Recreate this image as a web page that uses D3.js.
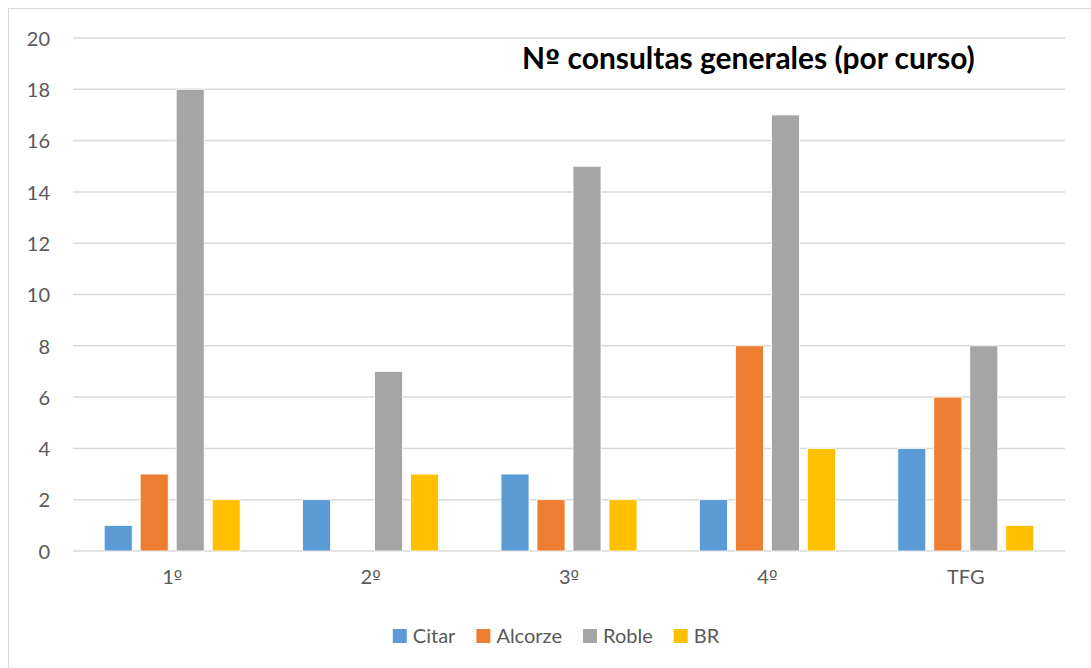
<!DOCTYPE html>
<html><head><meta charset="utf-8">
<script src="https://cdn.jsdelivr.net/npm/d3@7"></script>
<style>body{margin:0;background:#fff}svg{display:block}</style>
</head><body>
<svg id="c" width="1091" height="668"></svg>
<script>
const categories = ["1º", "2º", "3º", "4º", "TFG"];
const seriesNames = ["Citar", "Alcorze", "Roble", "BR"];
const citar   = [1, 2, 3, 2, 4];
const alcorze = [3, 0, 2, 8, 6];
const roble   = [18, 7, 15, 17, 8];
const br      = [2, 3, 2, 4, 1];
const yTicks = [0, 2, 4, 6, 8, 10, 12, 14, 16, 18, 20];
const colors = ["#5b9bd5", "#ed7d31", "#a5a5a5", "#ffc000"];
const title = "Nº consultas generales (por curso)";

const seriesValues = [citar, alcorze, roble, br];
const svg = d3.select("#c");
const font = "Lato, 'Open Sans', sans-serif";
const ordFont = "'DejaVu Sans', sans-serif";

// render text with the ordinal sign in a font that underlines it
function setOrdText(sel, str) {
  sel.text(null);
  str.split(/(º)/).filter(p => p.length).forEach(p => {
    const ts = sel.append("tspan").text(p);
    if (p === "º") ts.attr("font-family", ordFont).attr("font-size", "0.9em");
  });
}

svg.append("rect").attr("x", 8.5).attr("y", 8.5).attr("width", 1100).attr("height", 700)
  .attr("fill", "#fff").attr("stroke", "#d9d9d9").attr("stroke-width", 1);

const x0 = d3.scaleBand().domain(categories).range([73, 1065]).padding(0);
const x1 = d3.scaleBand().domain(seriesNames).range([-68, 68]).paddingInner(8/36).paddingOuter(0);
const y = d3.scaleLinear().domain([0, 20]).range([551, 38]);

// gridlines
svg.append("g").selectAll("line").data(yTicks).join("line")
  .attr("x1", 73).attr("x2", 1065)
  .attr("y1", d => y(d)).attr("y2", d => y(d))
  .attr("stroke", "#d9d9d9").attr("stroke-width", 1.5);

// y axis labels
const yAxis = d3.axisLeft(y).tickValues(yTicks).tickSize(0).tickPadding(0);
const gy = svg.append("g").attr("transform", "translate(50,0)").call(yAxis);
gy.select(".domain").remove();
gy.selectAll("text").attr("font-family", font).attr("font-size", 20).attr("fill", "#595959").attr("dy", "0.36em");

// bars
const data = [];
categories.forEach((c, i) => seriesNames.forEach((s, j) => data.push({c, s, v: seriesValues[j][i], j})));
svg.append("g").selectAll("rect").data(data).join("rect")
  .attr("x", d => x0(d.c) + x0.bandwidth()/2 + x1(d.s))
  .attr("width", x1.bandwidth())
  .attr("y", d => y(d.v))
  .attr("height", d => y(0) - y(d.v))
  .attr("fill", d => colors[d.j])
  .attr("stroke", "#fff").attr("stroke-width", d => d.v > 0 ? 0.8 : 0);

// x axis labels
const xAxis = d3.axisBottom(x0).tickSize(0).tickPadding(0);
const gx = svg.append("g").attr("transform", "translate(0,570)").call(xAxis);
gx.select(".domain").remove();
gx.selectAll("text").attr("font-family", font).attr("font-size", 20).attr("fill", "#595959").attr("dy", "0.71em")
  .each(function(d) { setOrdText(d3.select(this), d); });

// title
const t = svg.append("text").attr("x", 522).attr("y", 69)
  .attr("font-family", font).attr("font-weight", "bold").attr("font-size", 27)
  .attr("fill", "#000");
setOrdText(t, title);
const tw = t.node().getComputedTextLength();
t.attr("font-size", 27 * 453 / tw);

// legend
const lg = svg.append("g");
let xpos = 0;
seriesNames.forEach((s, j) => {
  const g = lg.append("g");
  g.append("rect").attr("x", 0).attr("y", 629).attr("width", 14).attr("height", 14).attr("fill", colors[j]);
  const tx = g.append("text").attr("x", 20).attr("y", 643).attr("font-family", font)
    .attr("font-size", 20).attr("fill", "#595959").text(s);
  const w = 20 + tx.node().getComputedTextLength();
  g.attr("transform", `translate(${xpos},0)`);
  xpos += w + 21;
});
const total = xpos - 21;
lg.attr("transform", `translate(${556 - total/2},0)`);
</script>
</body></html>
